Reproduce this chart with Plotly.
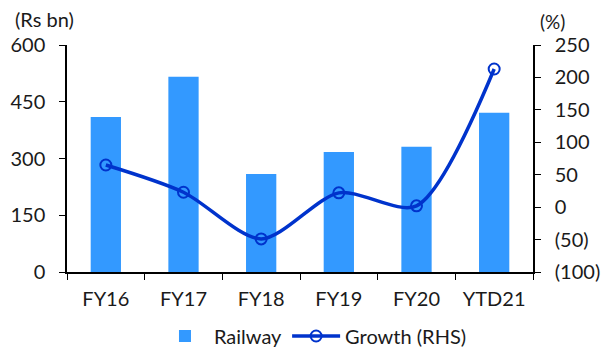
import plotly.graph_objects as go

categories = ["FY16", "FY17", "FY18", "FY19", "FY20", "YTD21"]
railway = [410, 516, 259, 317, 331, 421]
growth = [65, 23, -49, 22, 2, 213]
left_ticks = [0, 150, 300, 450, 600]
right_ticks = [-100, -50, 0, 50, 100, 150, 200, 250]
right_labels = ["(100)", "(50)", "0", "50", "100", "150", "200", "250"]

FONT = "Lato, Calibri, Carlito, sans-serif"

fig = go.Figure()
fig.add_trace(go.Bar(
    x=categories, y=railway, name="Railway",
    marker=dict(color="#3399FF", line=dict(width=0)),
    width=0.39,
))
fig.add_trace(go.Scatter(
    x=categories, y=growth, name="Growth (RHS)", yaxis="y2",
    mode="lines+markers",
    line=dict(color="#0033CC", width=3.5, shape="spline", smoothing=0.8),
    marker=dict(symbol="circle-open", size=11, color="#0033CC", line=dict(width=2, color="#0033CC")),
))

fig.update_layout(
    width=608, height=352,
    margin=dict(l=67, r=75, t=45, b=80, autoexpand=False),
    paper_bgcolor="white", plot_bgcolor="white",
    font=dict(family=FONT, size=20, color="#1a1a1a"),
    showlegend=True,
    legend=dict(orientation="h", x=0.53, xanchor="center", y=-0.282, yanchor="middle",
                font=dict(size=20), itemwidth=48, tracegroupgap=0),
    xaxis=dict(
        range=[-0.5, 5.5], showline=True, linecolor="black", linewidth=1.5,
        ticks="outside", tickson="boundaries", ticklen=6, tickcolor="black",
        showgrid=False, tickfont=dict(size=20), ticklabelstandoff=8,
    ),
    yaxis=dict(
        range=[0, 600], tickvals=left_ticks, showline=True, linecolor="black", linewidth=1.5,
        ticks="outside", ticklen=6, tickcolor="black", showgrid=False, zeroline=False,
        tickfont=dict(size=20), ticklabelstandoff=10,
    ),
    yaxis2=dict(
        range=[-100, 250], tickvals=right_ticks, ticktext=right_labels,
        overlaying="y", side="right", showline=True, linecolor="black", linewidth=1.5,
        ticks="outside", ticklen=6, tickcolor="black", showgrid=False, zeroline=False,
        tickfont=dict(size=20), ticklabelstandoff=10,
    ),
    annotations=[
        dict(text="(Rs bn)", xref="paper", yref="paper", x=-0.115, y=1.115,
             xanchor="left", yanchor="middle", showarrow=False, font=dict(size=20)),
        dict(text="(%)", xref="paper", yref="paper", x=1.011, y=1.104,
             xanchor="left", yanchor="middle", showarrow=False, font=dict(size=19)),
    ],
    bargap=0.6,
)

fig.write_html("out.html", config={"displayModeBar": False},
               post_script="document.body.style.margin='0';")
